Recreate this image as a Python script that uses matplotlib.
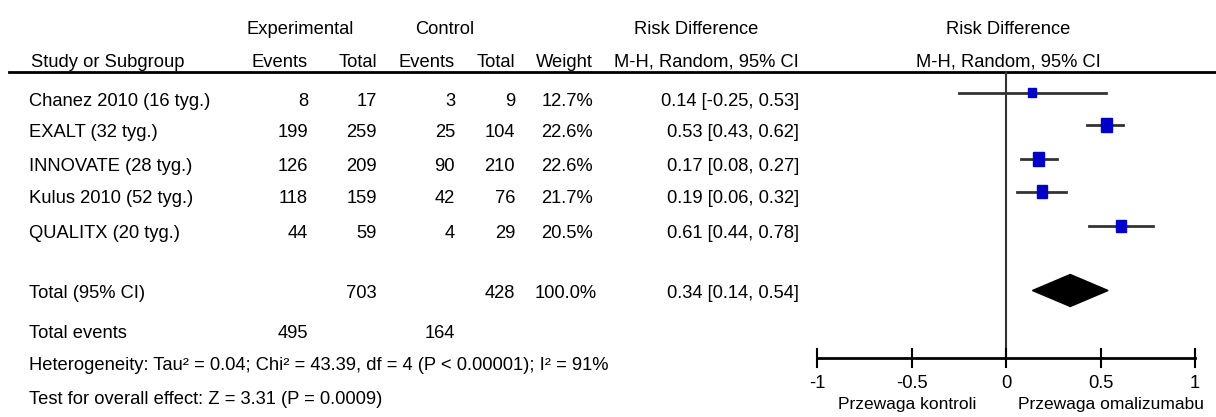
import numpy as np
from matplotlib import pyplot as plt
from matplotlib.patches import Rectangle, Polygon

plt.rcParams['font.family'] = ['Liberation Sans', 'DejaVu Sans']

studies = ["Chanez 2010 (16 tyg.)", "EXALT (32 tyg.)", "INNOVATE (28 tyg.)",
           "Kulus 2010 (52 tyg.)", "QUALITX (20 tyg.)"]
exp_events = [8, 199, 126, 118, 44]
exp_total = [17, 259, 209, 159, 59]
ctl_events = [3, 25, 90, 42, 4]
ctl_total = [9, 104, 210, 76, 29]
weights = [12.7, 22.6, 22.6, 21.7, 20.5]
rd = [0.14, 0.53, 0.17, 0.19, 0.61]
rd_lo = [-0.25, 0.43, 0.08, 0.06, 0.44]
rd_hi = [0.53, 0.62, 0.27, 0.32, 0.78]
pooled = [0.34, 0.14, 0.54]
tot_exp = 703
tot_ctl = 428
tot_weight = 100.0
tot_exp_events = 495
tot_ctl_events = 164
ticks = [-1, -0.5, 0, 0.5, 1]
ticklabels = ["-1", "-0.5", "0", "0.5", "1"]

het_text = "Heterogeneity: Tau\u00b2 = 0.04; Chi\u00b2 = 43.39, df = 4 (P < 0.00001); I\u00b2 = 91%"
test_text = "Test for overall effect: Z = 3.31 (P = 0.0009)"

W, H = 1216, 417
fig = plt.figure(figsize=(W/100, H/100), dpi=100)

# table part, pixel coordinates
ax = fig.add_axes([0, 0, 1, 1])
ax.set_xlim(0, W)
ax.set_ylim(H, 0)
ax.axis('off')

fs = 13.2
row_txt = [101, 132.5, 166, 198, 233]
row_mk = [92.5, 125, 159, 191.5, 226]

ax.text(247, 29, "Experimental", fontsize=fs, va='center', ha='left')
ax.text(415, 29, "Control", fontsize=fs, va='center', ha='left')
ax.text(696, 29, "Risk Difference", fontsize=fs, va='center', ha='center')
ax.text(1008, 29, "Risk Difference", fontsize=fs, va='center', ha='center')

ax.text(31, 62, "Study or Subgroup", fontsize=fs, va='center', ha='left')
ax.text(308, 62, "Events", fontsize=fs, va='center', ha='right')
ax.text(377, 62, "Total", fontsize=fs, va='center', ha='right')
ax.text(455, 62, "Events", fontsize=fs, va='center', ha='right')
ax.text(515, 62, "Total", fontsize=fs, va='center', ha='right')
ax.text(593, 62, "Weight", fontsize=fs, va='center', ha='right')
ax.text(799, 62, "M-H, Random, 95% CI", fontsize=fs, va='center', ha='right')
ax.text(1008, 62, "M-H, Random, 95% CI", fontsize=fs, va='center', ha='center')

ax.plot([9, W], [72, 72], color='black', lw=2)

for i in range(len(studies)):
    y = row_txt[i]
    ax.text(29, y, studies[i], fontsize=fs, va='center', ha='left')
    ax.text(308, y, str(exp_events[i]), fontsize=fs, va='center', ha='right')
    ax.text(377, y, str(exp_total[i]), fontsize=fs, va='center', ha='right')
    ax.text(455, y, str(ctl_events[i]), fontsize=fs, va='center', ha='right')
    ax.text(515, y, str(ctl_total[i]), fontsize=fs, va='center', ha='right')
    ax.text(593, y, "%.1f%%" % weights[i], fontsize=fs, va='center', ha='right')
    ax.text(799, y, "%.2f [%.2f, %.2f]" % (rd[i], rd_lo[i], rd_hi[i]),
            fontsize=fs, va='center', ha='right')

ax.text(29, 293, "Total (95% CI)", fontsize=fs, va='center', ha='left')
ax.text(377, 293, str(tot_exp), fontsize=fs, va='center', ha='right')
ax.text(515, 293, str(tot_ctl), fontsize=fs, va='center', ha='right')
ax.text(597, 293, "%.1f%%" % tot_weight, fontsize=fs, va='center', ha='right')
ax.text(799, 293, "%.2f [%.2f, %.2f]" % tuple(pooled), fontsize=fs, va='center', ha='right')

ax.text(29, 334, "Total events", fontsize=fs, va='center', ha='left')
ax.text(308, 334, str(tot_exp_events), fontsize=fs, va='center', ha='right')
ax.text(455, 334, str(tot_ctl_events), fontsize=fs, va='center', ha='right')
ax.text(29, 366, het_text, fontsize=fs, va='center', ha='left')
ax.text(29, 400, test_text, fontsize=fs, va='center', ha='left')

# forest part: x in risk difference units, y in pixels
x0, x1 = 817, 1195
fax = fig.add_axes([x0/W, 0, (x1-x0)/W, 1])
fax.set_xlim(-1, 1)
fax.set_ylim(H, 0)
fax.axis('off')
px = 2.0 / (x1 - x0)

fax.plot([0, 0], [72, 358], color='#333333', lw=1.5, clip_on=False)

for i in range(len(studies)):
    y = row_mk[i]
    fax.plot([rd_lo[i], rd_hi[i]], [y, y], color='#333333', lw=2, clip_on=False)
    s = 4.15 + 0.303*weights[i]
    fax.add_patch(Rectangle((rd[i] - s*px/2, y - s*0.6), s*px, s*1.2,
                            color='#0000c8', clip_on=False, zorder=3))

yd = 290.5
fax.add_patch(Polygon([[pooled[1], yd], [pooled[0], yd - 16], [pooled[2], yd], [pooled[0], yd + 16]],
                      closed=True, color='black', clip_on=False))

ya = 358
fax.plot([ticks[0], ticks[-1]], [ya, ya], color='black', lw=2, clip_on=False)
for t, lab in zip(ticks, ticklabels):
    fax.plot([t, t], [349, 367], color='black', lw=1.5, clip_on=False)
    fax.text(t, 383, lab, fontsize=fs, va='center', ha='center')

fax.text(-30*px, 405, "Przewaga kontroli", fontsize=12.5, va='center', ha='right')
fax.text(12*px, 405, "Przewaga omalizumabu", fontsize=12.5, va='center', ha='left')

fig.savefig("out.png", dpi=100)
